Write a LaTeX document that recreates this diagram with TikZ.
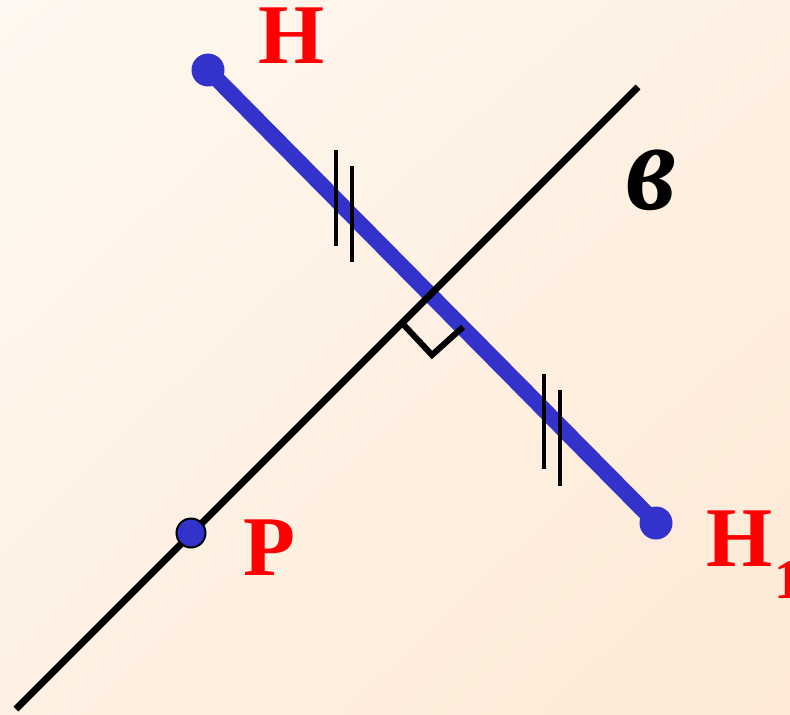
\documentclass[tikz,border=0pt]{standalone}
\usepackage{fontspec}
\setmainfont{Liberation Serif}
\usetikzlibrary{calc,shadings}
\definecolor{bgA}{RGB}{255,248,240}
\definecolor{bgB}{RGB}{253,233,213}
\definecolor{bgM}{RGB}{254,241,227}
\definecolor{segblue}{RGB}{51,51,204}
\tikzset{
  lbl/.style={inner sep=0pt, anchor=base west, text=red, font=\fontsize{85}{85}\selectfont\bfseries},
  seg/.style={draw=segblue, line width=16pt, line cap=round},
  axisline/.style={draw=black, line width=7pt},
  tick/.style={draw=black, line width=4pt},
  rightmark/.style={draw=black, line width=6pt, line join=miter},
}
\begin{document}
\begin{tikzpicture}[x=1pt,y=-1pt]
\useasboundingbox (0,0) rectangle (790,715);
\shade[upper left=bgA, upper right=bgM, lower left=bgM, lower right=bgB] (0,0) rectangle (790,715);
% points
\coordinate (H) at (208,70);
\coordinate (H1) at (656,523);
\coordinate (A) at (16,709);
\coordinate (B) at (638,87);
\coordinate (P) at (191,533);
% segment H H1
\draw[seg] (H) -- (H1);
\fill[segblue] (H) circle (16.5);
\fill[segblue] (H1) circle (16.5);
% line b
\draw[axisline] (A) -- (B);
% right angle mark
\coordinate (R1) at (402,323);
\coordinate (R2) at (432,355);
\coordinate (R3) at (463,327);
\draw[rightmark] (R1) -- (R2) -- (R3);
% equal ticks
\coordinate (T1a) at (336,150); \coordinate (T1b) at (336,246);
\coordinate (T2a) at (352,166); \coordinate (T2b) at (352,262);
\coordinate (T3a) at (544,374); \coordinate (T3b) at (544,469);
\coordinate (T4a) at (560,390); \coordinate (T4b) at (560,486);
\draw[tick] (T1a) -- (T1b);
\draw[tick] (T2a) -- (T2b);
\draw[tick] (T3a) -- (T3b);
\draw[tick] (T4a) -- (T4b);
% point P
\filldraw[fill=segblue, draw=black, line width=2pt] (P) circle (14.5);
% labels
\node[lbl] (labH) at (258,63) {H};
\node[lbl] (labP) at (243,575) {P};
\node[lbl] (labH1) at (706,566) {H};
\node[lbl, font=\fontsize{56}{56}\selectfont\bfseries] (labsub) at (774,598) {1};
\node[lbl, text=black, font=\fontsize{112}{112}\selectfont\bfseries\itshape] (labb) at (626,209) {\scalebox{1}[1.13]{в}};
\end{tikzpicture}
\end{document}
